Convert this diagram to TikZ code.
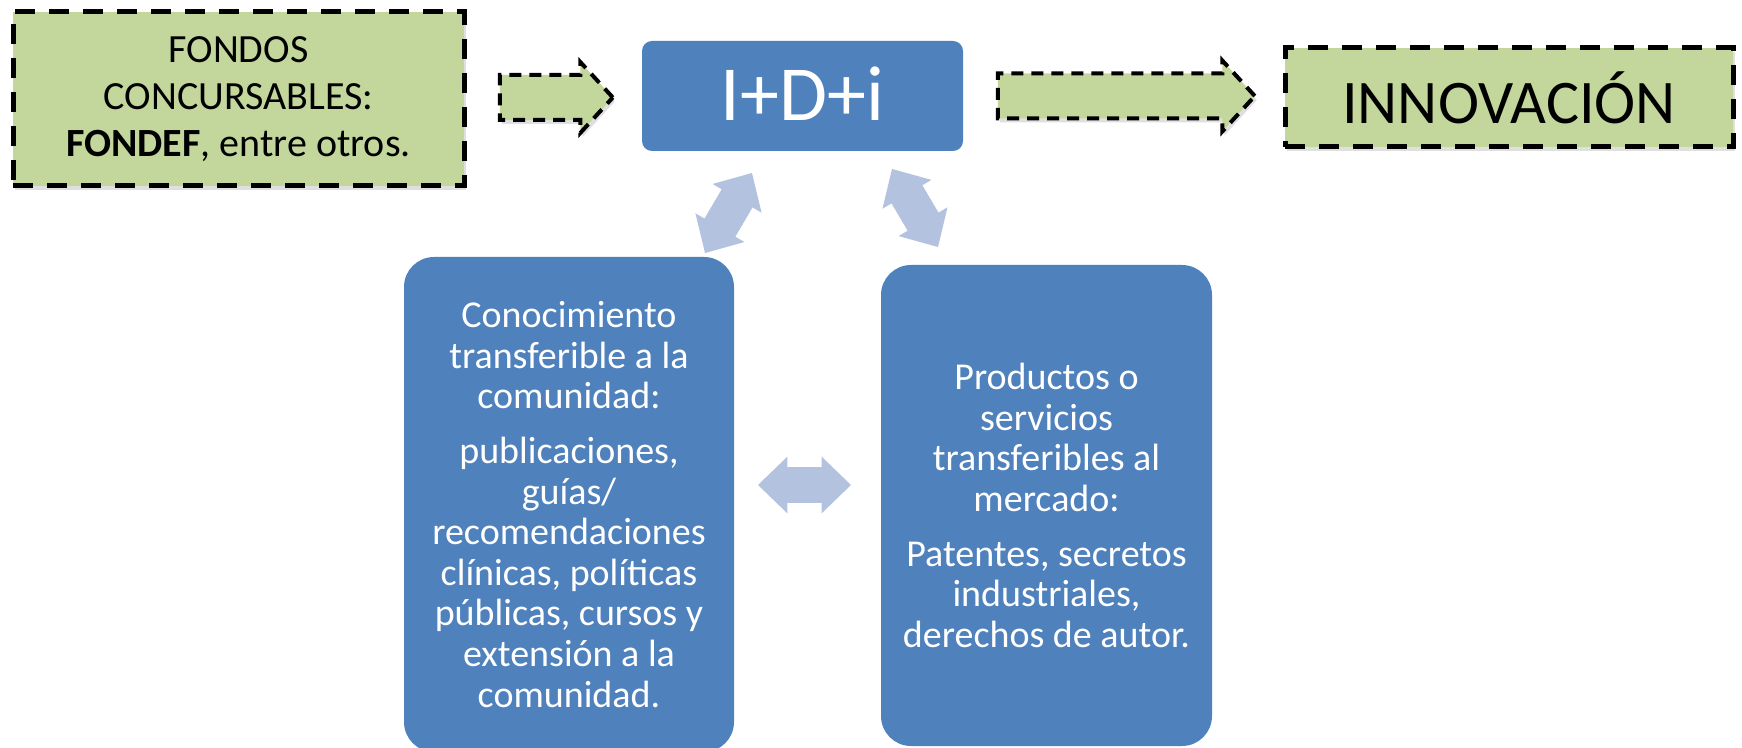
\documentclass[tikz,border=0pt]{standalone}
\usepackage{fontspec}
\setmainfont{Carlito}
\usepackage{xcolor}
\usetikzlibrary{
	shapes,
	shapes.arrows,
	shadows,
	calc
}
\definecolor{leafgreen}{HTML}{C3D69B}
\definecolor{boxblue}{HTML}{4F81BD}
\definecolor{paleblue}{HTML}{B3C3DF}

\tikzset{
	greenbox/.style={rectangle, fill=leafgreen, draw=black, line width=2.5pt,
		dash pattern=on 10pt off 7pt, align=center, inner sep=0pt,
		drop shadow={shadow xshift=1pt, shadow yshift=-2pt, opacity=0.25}},
	greenarrow/.style={single arrow, fill=leafgreen, draw=black, line width=2pt,
		dash pattern=on 6pt off 4pt, inner xsep=0pt, inner ysep=10.25pt,
		single arrow tip angle=95, single arrow head extend=6.5pt,
		drop shadow={shadow xshift=1pt, shadow yshift=-2pt, opacity=0.25}},
	bluebox/.style={rectangle, fill=boxblue, text=white, align=center, inner sep=0pt},
	bluetext/.style={font=\fontsize{19}{20.3}\selectfont},
	twoway/.style={double arrow, fill=paleblue, inner xsep=0pt, inner ysep=8.75pt,
		double arrow head extend=5.25pt, double arrow tip angle=88}
}

\begin{document}
\begin{tikzpicture}[x=0.5pt, y=-0.5pt]
                \useasboundingbox (0,0) rectangle (1742,748);
                % fila superior
                \node[greenbox, minimum width=225.5pt, minimum height=87pt,
                      font=\fontsize{20}{23.5}\selectfont] (fondos) at (238.5,99)
                      {FONDOS\\CONCURSABLES:\\\textbf{FONDEF}, entre otros.};
                \node[bluebox, rounded corners=5pt, minimum width=160.5pt, minimum height=55pt,
                      font=\fontsize{39}{42}\selectfont] (idi) at (802.5,96) {\raisebox{2pt}{I+D+i}};
                \node[greenbox, minimum width=224pt, minimum height=49.5pt,
                      font=\fontsize{31}{34}\selectfont] (innov) at (1509,97.5) {INNOVACIÓN};
                \node[greenarrow, minimum height=56.5pt] (fondos-idi) at (546,97.5) {};
                \node[greenarrow, minimum height=128.5pt] (idi-innov) at (1116,96) {};
                % fila inferior
                \node[bluebox, bluetext, rounded corners=15pt, minimum width=165pt,
                      minimum height=247.5pt] (conoc) at (569,504.5)
                      {Conocimiento\\transferible a la\\comunidad:\\[7pt]publicaciones,\\gu\'ias/\\recomendaciones\\cl\'inicas, pol\'iticas\\p\'ublicas, cursos y\\extensi\'on a la\\comunidad.};
                \node[bluebox, bluetext, rounded corners=15pt, minimum width=165.5pt,
                      minimum height=240.5pt] (prod) at (1046.5,505.5)
                      {Productos o\\servicios\\transferibles al\\mercado:\\[7pt]Patentes, secretos\\industriales,\\derechos de autor.};
                % flechas dobles
                \node[twoway, minimum height=46.4pt, rotate=59.6] (idi-conoc) at (728.5,213) {};
                \node[twoway, minimum height=45.3pt, rotate=-59.5] (idi-prod) at (915,208) {};
                \node[twoway, minimum height=46.5pt] (conoc-prod) at (804.5,485) {};
            \end{tikzpicture}
\end{document}
